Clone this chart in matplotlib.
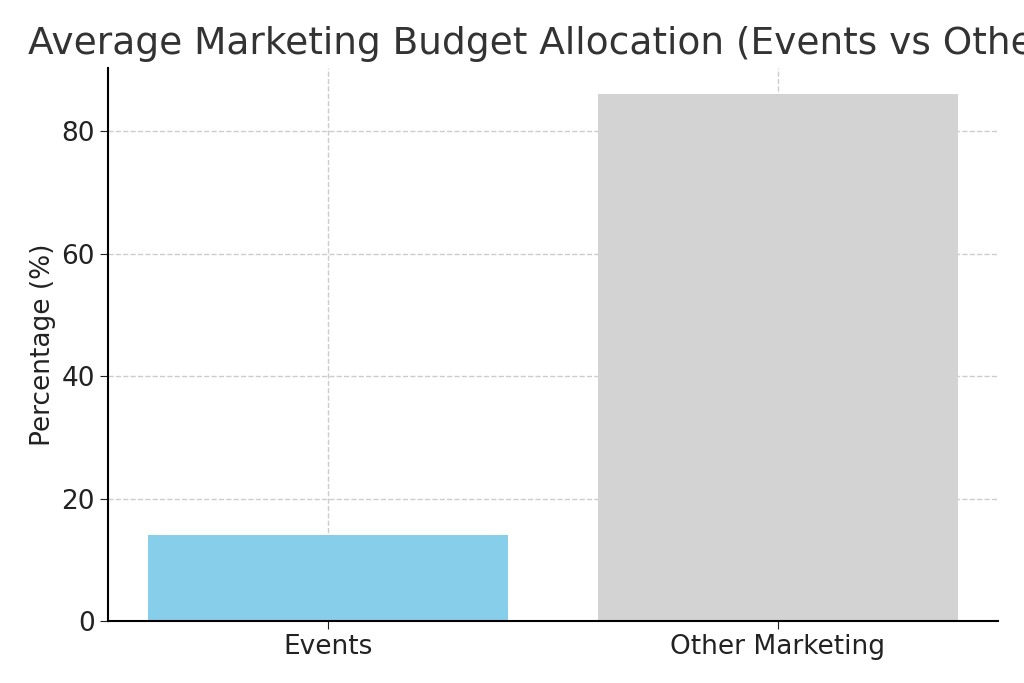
import matplotlib.pyplot as plt

categories = ['Events', 'Other Marketing']
values = [14, 86]
colors = ['skyblue', 'lightgrey']

fig = plt.figure(figsize=(10.24, 6.83), dpi=100)
ax = fig.add_axes([108 / 1024, 1 - 621 / 683, 890 / 1024, 553 / 683])
ax.bar(categories, values, color=colors, width=0.8)
ax.set_xlim(-0.49, 1.49)
ax.set_ylim(0, 90.3)
ax.grid(True, linestyle='--', color='#cccccc', linewidth=1)
ax.set_axisbelow(True)
ax.spines['top'].set_visible(False)
ax.spines['right'].set_visible(False)
ax.spines['left'].set_linewidth(1.5)
ax.spines['bottom'].set_linewidth(1.5)
ax.tick_params(labelsize=19, colors='#222222', length=6)
ax.set_yticks([0, 20, 40, 60, 80])
ax.set_ylabel('Percentage (%)', fontsize=19, color='#222222')
# title overflows the right edge in the original, left edge sits at ~28px
fig.text(28 / 1024, 1 - 44 / 683, 'Average Marketing Budget Allocation (Events vs Other Marketing)',
         fontsize=27, color='#333333', ha='left', va='center')
fig.savefig('out.png', dpi=100)
